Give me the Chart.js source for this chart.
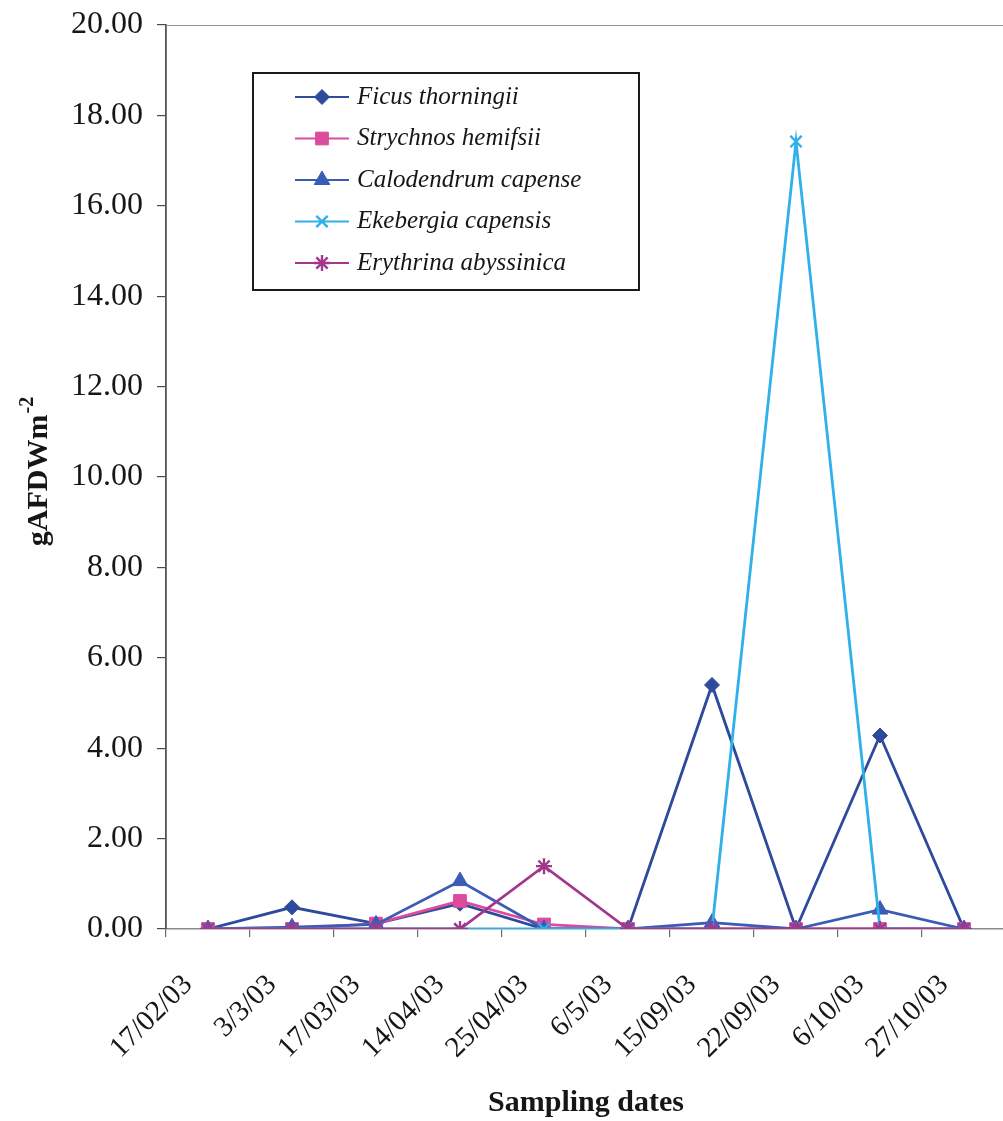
<!DOCTYPE html>
<html>
<head>
<meta charset="utf-8">
<script src="https://cdn.jsdelivr.net/npm/chart.js@4/dist/chart.umd.min.js"></script>
<style>
  html, body { margin: 0; padding: 0; background: #ffffff; overflow: hidden; }
  #wrap { width: 1017px; height: 1121px; position: relative; }
</style>
</head>
<body>
<div id="wrap"><canvas id="c" width="1017" height="1121"></canvas></div>
<script>
// Sampling dates (x categories)
const dates = ['17/02/03', '3/3/03', '17/03/03', '14/04/03', '25/04/03', '6/5/03',
               '15/09/03', '22/09/03', '6/10/03', '27/10/03'];

// Species names
const species = ['Ficus thorningii', 'Strychnos hemifsii', 'Calodendrum capense',
                 'Ekebergia capensis', 'Erythrina abyssinica'];

// gAFDW m^-2 per sampling date
const ficus       = [0, 0.48, 0.12, 0.56, 0, 0, 5.40, 0, 4.28, 0];
const strychnos   = [0, 0, 0.12, 0.62, 0.10, 0, 0, 0, 0, 0];
const calodendrum = [0, 0.04, 0.10, 1.06, 0, 0, 0.14, 0, 0.43, 0];
const ekebergia   = [0, 0, 0, 0, 0, 0, 0, 17.42, 0, 0];
const erythrina   = [0, 0, 0, 0, 1.39, 0, 0, 0, 0, 0];

// Y tick values
const yTicks = [0, 2, 4, 6, 8, 10, 12, 14, 16, 18, 20];

const seriesData = [ficus, strychnos, calodendrum, ekebergia, erythrina];
const colors = ['#2d4a9c', '#dc4b9d', '#3a5cb4', '#2eb0ea', '#a2388c'];
const shapes = ['rectRot', 'rect', 'triangle', 'crossRot', 'star'];
const radii  = [7.5, 9, 9, 8, 8];

const serif = "'Liberation Serif', 'Times New Roman', serif";

const datasets = species.map((name, i) => ({
  label: name,
  data: seriesData[i],
  borderColor: colors[i],
  backgroundColor: colors[i],
  borderWidth: 2.8,
  pointStyle: shapes[i],
  pointRadius: radii[i],
  pointBorderWidth: (shapes[i] === 'crossRot' || shapes[i] === 'star') ? 2.4 : 1,
  pointBorderColor: colors[i],
  pointBackgroundColor: colors[i],
  tension: 0,
  fill: false,
  // later series paint over earlier ones
  order: species.length - 1 - i
}));

// Boxed legend, y-axis title with superscript, plot top border
const decorations = {
  id: 'decorations',
  afterDraw(chart) {
    const ctx = chart.ctx;
    const area = chart.chartArea;
    ctx.save();

    // top border of the plot area
    ctx.strokeStyle = '#8c96a8';
    ctx.lineWidth = 1.2;
    ctx.beginPath();
    ctx.moveTo(area.left, area.top + 0.5);
    ctx.lineTo(area.right, area.top + 0.5);
    ctx.stroke();

    // legend box
    const bx = area.left + 87, by = area.top + 48, bw = 386, bh = 217;
    ctx.fillStyle = '#ffffff';
    ctx.fillRect(bx, by, bw, bh);
    ctx.strokeStyle = '#1a1a1a';
    ctx.lineWidth = 2;
    ctx.strokeRect(bx, by, bw, bh);

    ctx.font = 'italic 25px ' + serif;
    ctx.textBaseline = 'middle';
    ctx.textAlign = 'left';
    chart.data.datasets.forEach((ds, i) => {
      const y = by + 24 + i * 41.5;
      ctx.strokeStyle = ds.borderColor;
      ctx.lineWidth = 2.2;
      ctx.beginPath();
      ctx.moveTo(bx + 42, y);
      ctx.lineTo(bx + 96, y);
      ctx.stroke();
      ctx.fillStyle = ds.backgroundColor;
      ctx.strokeStyle = ds.borderColor;
      ctx.lineWidth = ds.pointBorderWidth;
      Chart.helpers.drawPoint(ctx, { pointStyle: ds.pointStyle, radius: ds.pointRadius, borderWidth: ds.pointBorderWidth, rotation: 0 }, bx + 69, y);
      ctx.fillStyle = '#161616';
      ctx.fillText(ds.label, bx + 104, y);
    });

    // y-axis title: gAFDWm with superscript -2
    const cx = 47, cy = 472;
    ctx.translate(cx, cy);
    ctx.rotate(-Math.PI / 2);
    ctx.fillStyle = '#161616';
    ctx.textBaseline = 'alphabetic';
    ctx.font = 'bold 30px ' + serif;
    const main = 'gAFDWm';
    const sup = '-2';
    const wMain = ctx.measureText(main).width;
    ctx.font = 'bold 20px ' + serif;
    const wSup = ctx.measureText(sup).width;
    const total = wMain + wSup;
    ctx.font = 'bold 30px ' + serif;
    ctx.textAlign = 'left';
    ctx.fillText(main, -total / 2, 0);
    ctx.font = 'bold 20px ' + serif;
    ctx.fillText(sup, -total / 2 + wMain + 1, -14);

    ctx.restore();
  }
};

new Chart(document.getElementById('c'), {
  type: 'line',
  data: { labels: dates, datasets: datasets },
  options: {
    responsive: false,
    animation: false,
    layout: { padding: { top: 25, right: 11, left: 0, bottom: 0 } },
    plugins: {
      legend: { display: false },
      tooltip: { enabled: false }
    },
    scales: {
      x: {
        type: 'category',
        offset: true,
        grid: {
          offset: true,
          drawOnChartArea: false,
          drawTicks: true,
          tickLength: 8,
          color: '#6b6b6b',
          lineWidth: 1.2
        },
        border: { display: true, color: '#8a8a8a', width: 1.6 },
        ticks: {
          autoSkip: false,
          maxRotation: 45,
          minRotation: 45,
          padding: 31,
          labelOffset: -20,
          color: '#161616',
          font: { family: serif, size: 29 }
        },
        title: {
          display: true,
          text: 'Sampling dates',
          color: '#161616',
          font: { family: serif, size: 30, weight: 'bold' },
          padding: { top: 0, bottom: 0 }
        },
        afterFit(scale) {
          scale.height = 192;
          scale.paddingLeft = 0;
          scale.paddingRight = 0;
        }
      },
      y: {
        min: 0,
        max: 20,
        afterBuildTicks(scale) { scale.ticks = yTicks.map(v => ({ value: v })); },
        grid: {
          drawOnChartArea: false,
          drawTicks: true,
          tickLength: 9,
          color: '#4a4a4a',
          lineWidth: 1.2
        },
        border: { display: true, color: '#555555', width: 1.8 },
        ticks: {
          padding: 14,
          color: '#161616',
          font: { family: serif, size: 32 },
          callback: (v) => Number(v).toFixed(2)
        },
        afterFit(scale) {
          scale.width = 166;
          scale.paddingTop = 0;
          scale.paddingBottom = 0;
        }
      }
    }
  },
  plugins: [decorations]
});
</script>
</body>
</html>
